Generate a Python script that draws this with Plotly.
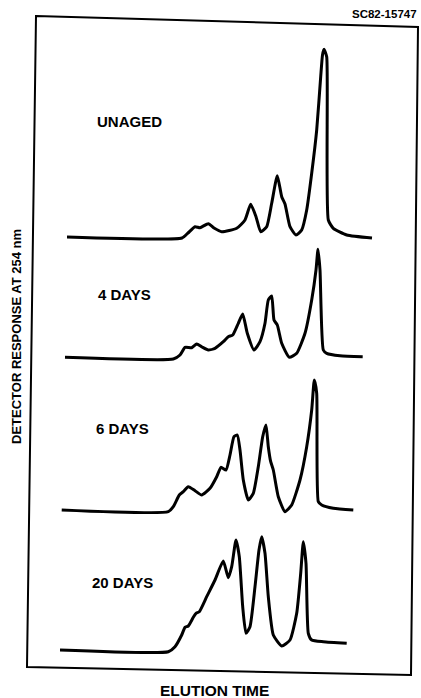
import plotly.graph_objects as go

# Chromatograms of the aged samples: elution time (arbitrary units) and
# detector response above each trace's own baseline (arbitrary units).
unaged_time = [0.7, 12.2, 12.8, 13.5, 14.0, 14.83, 15.4, 16.17, 17.67, 18.5, 19.07, 19.6,
               20.07, 20.67, 21.17, 21.73, 22.17, 22.5, 23.0, 23.6, 24.17, 24.67, 25.17,
               25.67, 26.07, 26.25, 26.4, 26.67, 26.83, 27.33, 28.67, 31.2]
unaged_resp = [0.1, 0.0, 0.5, 1.13, 1.03, 1.43, 1.0, 0.63, 0.97, 1.8, 3.37, 2.13,
               0.63, 1.13, 3.47, 6.23, 4.13, 3.4, 1.13, 0.3, 0.8, 2.8, 6.47,
               10.8, 16.13, 18.3, 18.87, 18.13, 1.8, 0.97, 0.3, 0.0]

days4_time = [0.5, 11.33, 12.0, 12.5, 13.17, 13.67, 14.2, 14.83, 15.5, 16.33, 16.83, 17.27,
              17.83, 18.27, 18.73, 19.4, 20.0, 20.5, 20.83, 21.17, 21.4, 21.73, 22.17,
              22.93, 23.67, 24.5, 25.17, 25.6, 25.8, 26.0, 26.33, 26.67, 28.0, 30.27]
days4_resp = [0.07, -0.1, 0.3, 1.07, 1.03, 1.4, 1.1, 0.8, 0.97, 1.63, 2.13, 2.3,
              3.47, 4.4, 2.47, 0.8, 1.63, 3.47, 5.8, 6.2, 3.8, 3.3, 1.47,
              0.07, 0.47, 2.47, 5.8, 8.8, 10.87, 8.8, 0.8, 0.47, 0.23, 0.13]

days6_time = [0.17, 10.83, 11.33, 11.93, 12.33, 12.83, 13.5, 14.17, 15.0, 15.67, 16.1, 16.6,
              17.0, 17.4, 17.73, 18.0, 18.33, 18.83, 19.33, 19.83, 20.27, 20.6, 20.83,
              21.07, 21.33, 21.83, 22.5, 23.17, 24.0, 24.67, 25.17, 25.43, 25.67, 25.83,
              26.17, 27.33, 29.33]
days6_resp = [0.1, -0.07, 0.43, 1.6, 1.93, 2.43, 2.03, 1.6, 2.27, 3.43, 4.37, 4.1,
              5.6, 7.43, 7.6, 6.1, 3.1, 1.1, 1.77, 4.43, 7.43, 8.6, 6.43,
              4.93, 4.1, 1.43, -0.07, 0.6, 3.1, 6.43, 10.1, 13.1, 11.77, 0.93,
              0.6, 0.27, 0.1]

days20_time = [0.0, 10.83, 11.5, 12.17, 12.5, 12.83, 13.33, 13.6, 13.93, 14.67, 15.5, 16.33,
               16.83, 17.17, 17.6, 17.93, 18.27, 18.6, 19.0, 19.5, 19.9, 20.17, 20.5,
               20.83, 21.33, 22.17, 23.0, 23.67, 24.07, 24.33, 24.6, 24.83, 25.17,
               26.33, 28.67]
days20_resp = [0.1, -0.07, 0.43, 1.6, 2.37, 2.5, 3.37, 3.77, 3.93, 5.43, 7.1, 9.0,
               7.33, 8.43, 11.1, 9.43, 4.43, 1.77, 2.43, 6.43, 10.1, 11.43, 9.77,
               5.43, 1.6, 0.5, 1.1, 3.77, 7.77, 10.93, 8.77, 1.77, 1.1,
               0.93, 0.77]

sample_labels = ["UNAGED", "4 DAYS", "6 DAYS", "20 DAYS"]

# Vertical stacking of the traces (baseline position on the shared axis)
STACK_OFFSETS = [46.0, 34.0, 18.7, 4.7]

W, H = 421, 698


def px(x, y):
    """Convert a pixel position on the page to paper coordinates."""
    return x / W, 1 - y / H


fig = go.Figure()

series = [
    (unaged_time, unaged_resp),
    (days4_time, days4_resp),
    (days6_time, days6_resp),
    (days20_time, days20_resp),
]
for (t, r), off, name in zip(series, STACK_OFFSETS, sample_labels):
    fig.add_trace(go.Scatter(
        x=t, y=[v + off for v in r], mode="lines", name=name,
        line=dict(color="black", width=3, shape="spline", smoothing=0.5),
        hoverinfo="skip", showlegend=False,
    ))

# Hand-drawn looking frame around the traces (slightly skewed)
corners = [(36, 16), (418, 27), (411, 675), (27, 667)]
path = "M " + " L ".join(f"{px(x, y)[0]:.5f},{px(x, y)[1]:.5f}" for x, y in corners) + " Z"
fig.add_shape(type="path", path=path, xref="paper", yref="paper",
              line=dict(color="black", width=2), fillcolor="rgba(0,0,0,0)")

FONT = "Liberation Sans, Arial, sans-serif"


def label(text, x, y, size, xanchor="center", angle=0):
    ax, ay = px(x, y)
    fig.add_annotation(text=f"<b>{text}</b>", x=ax, y=ay, xref="paper", yref="paper",
                       showarrow=False, xanchor=xanchor, yanchor="middle",
                       textangle=angle, font=dict(family=FONT, size=size, color="black"))


label_pos = [(95, 122), (96, 294), (94, 428), (90, 582)]
for name, (x, y) in zip(sample_labels, label_pos):
    label(name, x, y, 15, xanchor="left")

label("SC82-15747", 419, 14, 11.5, xanchor="right")
label("DETECTOR RESPONSE AT 254 nm", 16, 337, 13, angle=-90)
label("ELUTION TIME", 214, 690, 15.5)

fig.update_layout(
    width=W, height=H,
    margin=dict(l=0, r=0, t=0, b=0),
    paper_bgcolor="white", plot_bgcolor="white",
    xaxis=dict(range=[-6, 36.1], visible=False, fixedrange=True),
    yaxis=dict(range=[0, 69.8], visible=False, fixedrange=True),
)

fig.write_html("out.html")
